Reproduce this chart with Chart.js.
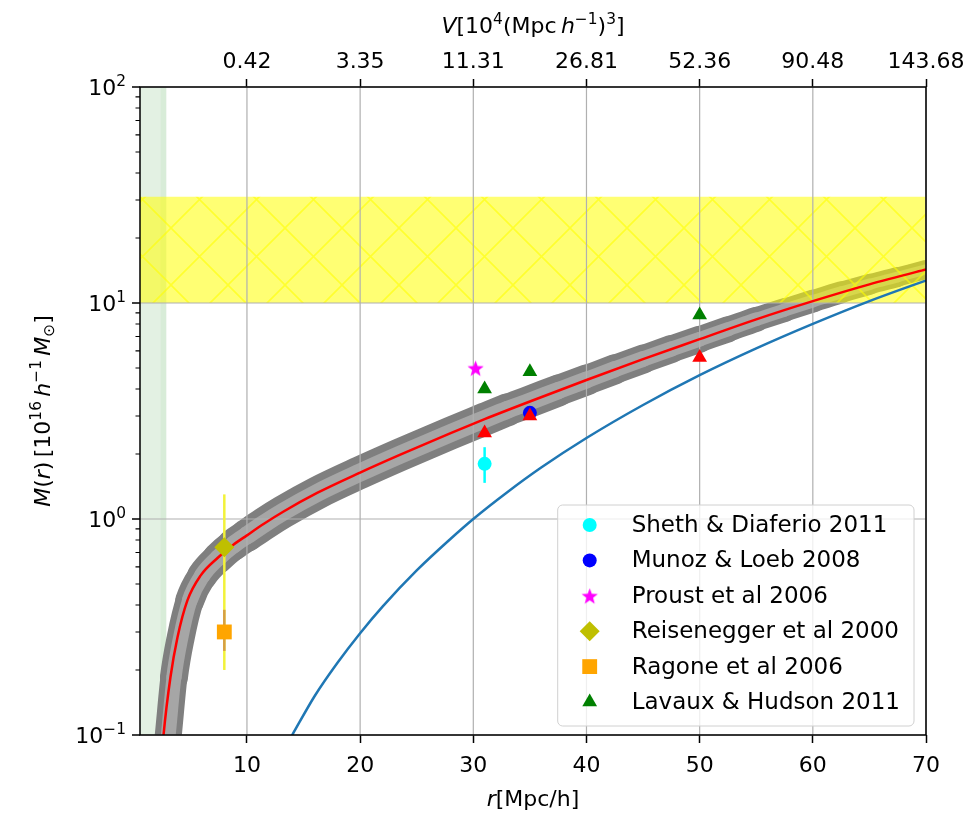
<!DOCTYPE html>
<html>
<head>
<meta charset="utf-8">
<script src="https://cdn.jsdelivr.net/npm/chart.js@4.4.1/dist/chart.umd.min.js"></script>
<style>
  html, body { margin: 0; padding: 0; background: #fff; }
  #wrap { position: relative; width: 969px; height: 813px; }
</style>
</head>
<body>
<div id="wrap"><canvas id="chart"></canvas></div>
<script>
// ---- axes ----
const X_MIN = 0.55, X_MAX = 70;
const Y_MIN = 0.1, Y_MAX = 100;
const xTicks       = [10, 20, 30, 40, 50, 60, 70];
const volumeLabels = ["0.42", "3.35", "11.31", "26.81", "52.36", "90.48", "143.68"];
const yTicks       = [0.1, 1, 10, 100];
const yTickExp     = ["\u22121", "0", "1", "2"];
const yMinorTicks  = [0.2, 0.3, 0.4, 0.5, 0.6, 0.7, 0.8, 0.9, 2, 3, 4, 5, 6, 7, 8, 9, 20, 30, 40, 50, 60, 70, 80, 90];

// ---- model M(r) (red) ----
const modelR = [2.3, 2.63, 3.24, 3.86, 4.74, 5.9, 7.4, 8.8, 10, 11.5, 13.2, 16.2, 20, 23.5, 28, 31, 35, 40, 45, 50, 55, 60, 65, 70, 72];
const modelM = [0.06, 0.1, 0.185, 0.283, 0.42, 0.547, 0.66, 0.76, 0.84, 0.95, 1.08, 1.32, 1.64, 1.98, 2.5, 2.9, 3.5, 4.4, 5.5, 6.8, 8.4, 10.2, 12.2, 14.3, 15.2];

// ---- grey spread around the model (centre line) ----
const bandR = [2.6, 3.05, 3.55, 4.15, 4.95, 6.05, 7.45, 8.8, 10, 11.5, 13.2, 16.2, 20, 23.5, 28, 31,
               33, 35, 37.5, 40, 42.5, 45, 47.5, 50, 52.5, 55, 57.5, 60, 62.5, 65, 67.5, 70, 72];
const bandM = [0.06, 0.1, 0.185, 0.283, 0.42, 0.547, 0.66, 0.76, 0.84, 0.95, 1.08, 1.32, 1.64, 1.98, 2.5, 2.9,
               3.2, 3.5, 3.93, 4.4, 4.93, 5.5, 6.12, 6.8, 7.55, 8.4, 9.27, 10.2, 11.2, 12.2, 13.2, 14.3, 15.2];

// ---- blue curve ----
const blueR = [13, 14, 16, 18, 20, 22, 25, 28, 30, 33, 36, 40, 45, 50, 55, 60, 65, 70, 72];
const blueM = [0.081, 0.1, 0.152, 0.216, 0.296, 0.394, 0.578, 0.81, 1.0, 1.33, 1.73, 2.37, 3.37, 4.63, 6.16, 8.0, 10.2, 12.7, 13.8];

// ---- shaded regions ----
const yellowBand = [10, 31];        // M range
const greenSpan  = [0.55, 2.9];     // r range
const greenSpan2 = [2.35, 2.9];

// ---- observations ----
const shethR = [31],  shethM = [1.8],  shethLo = [1.47], shethHi = [2.15];
const munozR = [35],  munozM = [3.1];
const proustR = [30.2], proustM = [5.0];
const reisR = [8], reisM = [0.74], reisLo = [0.2], reisHi = [1.3];
const ragoneR = [8], ragoneM = [0.30], ragoneLo = [0.245], ragoneHi = [0.38];
const lavauxR = [31, 35, 50], lavauxM = [4.0, 4.8, 8.8];
const lavauxAltM = [2.5, 3.0, 5.6];

// ============================================================
function pts(xs, ys) { return xs.map(function (x, i) { return { x: x, y: ys[i] }; }); }
function bar(x, lo, hi) { return [{ x: x, y: lo }, { x: x, y: hi }]; }

const FONT = "'DejaVu Sans', sans-serif";
const FS = 22;

// grey band stroke width (px) for each band segment
const bandWidthPx = [27, 27, 28, 28, 29, 30, 31, 32,
                     33, 33, 33, 33, 33, 33, 33, 33,
                     32, 32, 31, 30, 29, 28, 27, 26,
                     25, 24, 23, 22, 21, 20, 19, 18, 17];

const canvas = document.getElementById("chart");
const mainCtx = canvas.getContext("2d");

function makeHatch() {
  const T = 57;
  const c = document.createElement("canvas");
  c.width = T; c.height = T;
  const g = c.getContext("2d");
  g.fillStyle = "rgba(255,255,0,0.55)";
  g.fillRect(0, 0, T, T);
  g.strokeStyle = "rgba(255,255,0,0.6)";
  g.lineWidth = 1.6;
  g.beginPath();
  g.moveTo(-3, -3); g.lineTo(T + 3, T + 3);
  g.moveTo(-3, T + 3); g.lineTo(T + 3, -3);
  g.stroke();
  return mainCtx.createPattern(c, "repeat");
}

function makeStar(color, R) {
  const s = Math.ceil(R * 2) + 2;
  const c = document.createElement("canvas");
  c.width = s; c.height = s;
  const g = c.getContext("2d");
  g.fillStyle = color;
  g.beginPath();
  for (let i = 0; i < 10; i++) {
    const r = i % 2 ? R * 0.42 : R;
    const a = -Math.PI / 2 + i * Math.PI / 5;
    g.lineTo(s / 2 + r * Math.cos(a), s / 2 + 1 + r * Math.sin(a));
  }
  g.closePath();
  g.fill();
  return c;
}

const starImg = makeStar("#ff00ff", 8.5);

function marker(label, xs, ys, color, style, radius, rank) {
  return {
    label: label, data: pts(xs, ys), legendRank: rank,
    backgroundColor: color, borderColor: color,
    pointStyle: style, pointRadius: radius, pointBorderWidth: 0,
    showLine: false, clip: false
  };
}
function lineSet(id, data, color, width, extra) {
  return Object.assign({
    id: id, data: data, showLine: true, borderColor: color, borderWidth: width,
    pointRadius: 0, fill: false, clip: 0
  }, extra || {});
}
function bandSet(id, color, scale) {
  return lineSet(id, pts(bandR, bandM), color, bandWidthPx[0] * scale, {
    cubicInterpolationMode: "monotone", borderCapStyle: "round", borderJoinStyle: "round",
    segment: { borderWidth: function (c) { return bandWidthPx[c.p0DataIndex] * scale; } }
  });
}

// datasets: first = drawn on top
const datasets = [
  marker("", lavauxR, lavauxAltM, "#ff0000", "triangle", 8.5, -1),
  marker("Lavaux & Hudson 2011", lavauxR, lavauxM, "#008000", "triangle", 8.5, 5),
  marker("Ragone et al 2006", ragoneR, ragoneM, "#ffa500", "rect", 10.5, 4),
  marker("Reisenegger et al 2000", reisR, reisM, "#bfbf00", "rectRot", 10, 3),
  marker("Proust et al 2006", proustR, proustM, "#ff00ff", starImg, 8.5, 2),
  marker("Munoz & Loeb 2008", munozR, munozM, "#0000ff", "circle", 7, 1),
  marker("Sheth & Diaferio 2011", shethR, shethM, "#00ffff", "circle", 7, 0),
  lineSet("ragoneErr", bar(ragoneR[0], ragoneLo[0], ragoneHi[0]), "#d69e45", 2.5),
  lineSet("reisErr", bar(reisR[0], reisLo[0], reisHi[0]), "#f2f23a", 2.5),
  lineSet("shethErr", bar(shethR[0], shethLo[0], shethHi[0]), "#00ffff", 2.5),
  lineSet("model", pts(modelR, modelM), "#ff0000", 2.5, { cubicInterpolationMode: "monotone" }),
  lineSet("blue", pts(blueR, blueM), "#1f77b4", 2.5, { cubicInterpolationMode: "monotone" }),
  lineSet("yellowBand", [{ x: X_MIN - 2, y: yellowBand[1] }, { x: X_MAX + 2, y: yellowBand[1] }], "rgba(0,0,0,0)", 0,
    { fill: { value: yellowBand[0] }, backgroundColor: makeHatch() }),
  bandSet("bandInner", "#a6a6a6", 0.55),
  bandSet("bandOuter", "#7f7f7f", 1),
  lineSet("green2", [{ x: greenSpan2[0], y: Y_MAX }, { x: greenSpan2[1], y: Y_MAX }], "rgba(0,0,0,0)", 0,
    { fill: "start", backgroundColor: "rgba(0,128,0,0.05)" }),
  lineSet("green", [{ x: greenSpan[0], y: Y_MAX }, { x: greenSpan[1], y: Y_MAX }], "rgba(0,0,0,0)", 0,
    { fill: "start", backgroundColor: "rgba(0,128,0,0.11)" })
];

// ============================================================
//  RICH TEXT (italic / super / subscript)
// ============================================================
function richFont(p, size) {
  const s = (p.sup || p.sub) ? size * 0.7 : size;
  return (p.it ? "italic " : "") + s + "px " + FONT;
}
function drawRich(ctx, parts, x, y, size, align, angle) {
  ctx.save();
  ctx.translate(x, y);
  ctx.rotate(angle || 0);
  ctx.textBaseline = "alphabetic";
  ctx.textAlign = "left";
  ctx.fillStyle = "#000";
  let w = 0;
  parts.forEach(function (p) { ctx.font = richFont(p, size); w += ctx.measureText(p.t).width; });
  let cx = align === "right" ? -w : align === "left" ? 0 : -w / 2;
  parts.forEach(function (p) {
    ctx.font = richFont(p, size);
    const dy = p.sup ? -size * 0.42 : p.sub ? size * 0.2 : 0;
    ctx.fillText(p.t, cx, dy);
    cx += ctx.measureText(p.t).width;
  });
  ctx.restore();
}

// ============================================================
//  PLUGIN: grid, frame, y axis, titles, legend
// ============================================================
const decor = {
  id: "decor",
  afterDatasetDraw: function (chart, args) {
    if (chart.data.datasets[args.index].id !== "yellowBand") return;
    const ctx = chart.ctx, a = chart.chartArea, x = chart.scales.x, y = chart.scales.y;
    ctx.save();
    ctx.strokeStyle = "#b0b0b0";
    ctx.lineWidth = 1.2;
    ctx.beginPath();
    xTicks.forEach(function (v) {
      const px = x.getPixelForValue(v);
      ctx.moveTo(px, a.top); ctx.lineTo(px, a.bottom);
    });
    yTicks.forEach(function (v) {
      const py = y.getPixelForValue(v);
      ctx.moveTo(a.left, py); ctx.lineTo(a.right, py);
    });
    ctx.stroke();
    ctx.restore();
  },
  afterDatasetsDraw: function (chart) {
    const ctx = chart.ctx, a = chart.chartArea, y = chart.scales.y;
    ctx.save();
    // frame
    ctx.strokeStyle = "#000";
    ctx.lineWidth = 1.5;
    ctx.strokeRect(a.left, a.top, a.right - a.left, a.bottom - a.top);
    // y ticks
    ctx.beginPath();
    yTicks.forEach(function (v) {
      const py = y.getPixelForValue(v);
      ctx.moveTo(a.left, py); ctx.lineTo(a.left - 8, py);
    });
    ctx.stroke();
    ctx.lineWidth = 1.1;
    ctx.beginPath();
    yMinorTicks.forEach(function (v) {
      const py = y.getPixelForValue(v);
      ctx.moveTo(a.left, py); ctx.lineTo(a.left - 4.5, py);
    });
    ctx.stroke();
    ctx.restore();
    yTicks.forEach(function (v, i) {
      const py = y.getPixelForValue(v);
      drawRich(ctx, [{ t: "10" }, { t: yTickExp[i], sup: true }], a.left - 14, py + 8, FS, "right");
    });
    // axis titles
    const mid = (a.left + a.right) / 2;
    drawRich(ctx, [{ t: "r", it: true }, { t: "[Mpc/h]" }], mid, 806, FS, "center");
    drawRich(ctx, [
      { t: "V", it: true }, { t: "[10" }, { t: "4", sup: true }, { t: "(Mpc\u2009" },
      { t: "h", it: true }, { t: "\u22121", sup: true }, { t: ")" }, { t: "3", sup: true }, { t: "]" }
    ], mid, 33, FS, "center");
    drawRich(ctx, [
      { t: "M", it: true }, { t: "(" }, { t: "r", it: true }, { t: ")\u2009[10" }, { t: "16", sup: true },
      { t: "\u2009" }, { t: "h", it: true }, { t: "\u22121", sup: true }, { t: "\u2009" },
      { t: "M", it: true }, { t: "\u2299", sub: true }, { t: "]" }
    ], 50, (a.top + a.bottom) / 2, FS, "center", -Math.PI / 2);
  },
  afterDraw: function (chart) {
    const ctx = chart.ctx, a = chart.chartArea;
    const items = chart.data.datasets
      .filter(function (d) { return d.legendRank >= 0; })
      .sort(function (p, q) { return p.legendRank - q.legendRank; });
    const LFS = 23;
    ctx.save();
    ctx.font = LFS + "px " + FONT;
    let tw = 0;
    items.forEach(function (d) { tw = Math.max(tw, ctx.measureText(d.label).width); });
    const rowH = 35.4;
    const w = 74 + tw + 14, h = 20 + rowH * (items.length - 1) + 24;
    const x0 = a.right - 12 - w, y0 = a.bottom - 9 - h;
    const r = 5;
    ctx.beginPath();
    ctx.moveTo(x0 + r, y0);
    ctx.arcTo(x0 + w, y0, x0 + w, y0 + h, r);
    ctx.arcTo(x0 + w, y0 + h, x0, y0 + h, r);
    ctx.arcTo(x0, y0 + h, x0, y0, r);
    ctx.arcTo(x0, y0, x0 + w, y0, r);
    ctx.closePath();
    ctx.fillStyle = "rgba(255,255,255,0.8)";
    ctx.fill();
    ctx.strokeStyle = "#d0d0d0";
    ctx.lineWidth = 1;
    ctx.stroke();
    items.forEach(function (d, i) {
      const cy = y0 + 20 + i * rowH;
      ctx.fillStyle = d.backgroundColor;
      Chart.helpers.drawPoint(ctx, { pointStyle: d.pointStyle, radius: d.pointRadius, rotation: 0, borderWidth: 0 }, x0 + 32, cy);
      ctx.fillStyle = "#000";
      ctx.textBaseline = "middle";
      ctx.textAlign = "left";
      ctx.fillText(d.label, x0 + 74, cy + 1);
    });
    ctx.restore();
  }
};

Chart.defaults.font.family = FONT;
Chart.defaults.font.size = FS;
Chart.defaults.color = "#000";

function fixedTicks(list) {
  return function (scale) { scale.ticks = list.map(function (v) { return { value: v }; }); };
}

new Chart(mainCtx, {
  type: "scatter",
  data: { datasets: datasets },
  options: {
    responsive: true,
    maintainAspectRatio: false,
    animation: false,
    events: [],
    layout: { padding: { left: 0, right: 43, top: 0, bottom: 0 } },
    plugins: { legend: { display: false }, tooltip: { enabled: false } },
    scales: {
      x: {
        type: "linear", position: "bottom", min: X_MIN, max: X_MAX,
        afterBuildTicks: fixedTicks(xTicks),
        afterFit: function (s) { s.height = 78; },
        grid: { display: true, drawOnChartArea: false, drawTicks: true, tickLength: 8, tickColor: "#000", tickWidth: 1.5 },
        border: { display: false },
        ticks: { autoSkip: false, maxRotation: 0, padding: 10, font: { size: FS } }
      },
      x2: {
        type: "linear", position: "top", min: X_MIN, max: X_MAX,
        afterBuildTicks: fixedTicks(xTicks),
        afterFit: function (s) { s.height = 87; },
        grid: { display: true, drawOnChartArea: false, drawTicks: true, tickLength: 8, tickColor: "#000", tickWidth: 1.5 },
        border: { display: false },
        ticks: {
          autoSkip: false, maxRotation: 0, padding: 4, font: { size: FS },
          callback: function (v) { const i = xTicks.indexOf(v); return i >= 0 ? volumeLabels[i] : ""; }
        }
      },
      y: {
        type: "logarithmic", position: "left", min: Y_MIN, max: Y_MAX,
        afterBuildTicks: fixedTicks(yTicks),
        afterFit: function (s) { s.width = 140; },
        grid: { display: false },
        border: { display: false },
        ticks: { display: false }
      }
    }
  },
  plugins: [decor]
});
</script>
</body>
</html>
